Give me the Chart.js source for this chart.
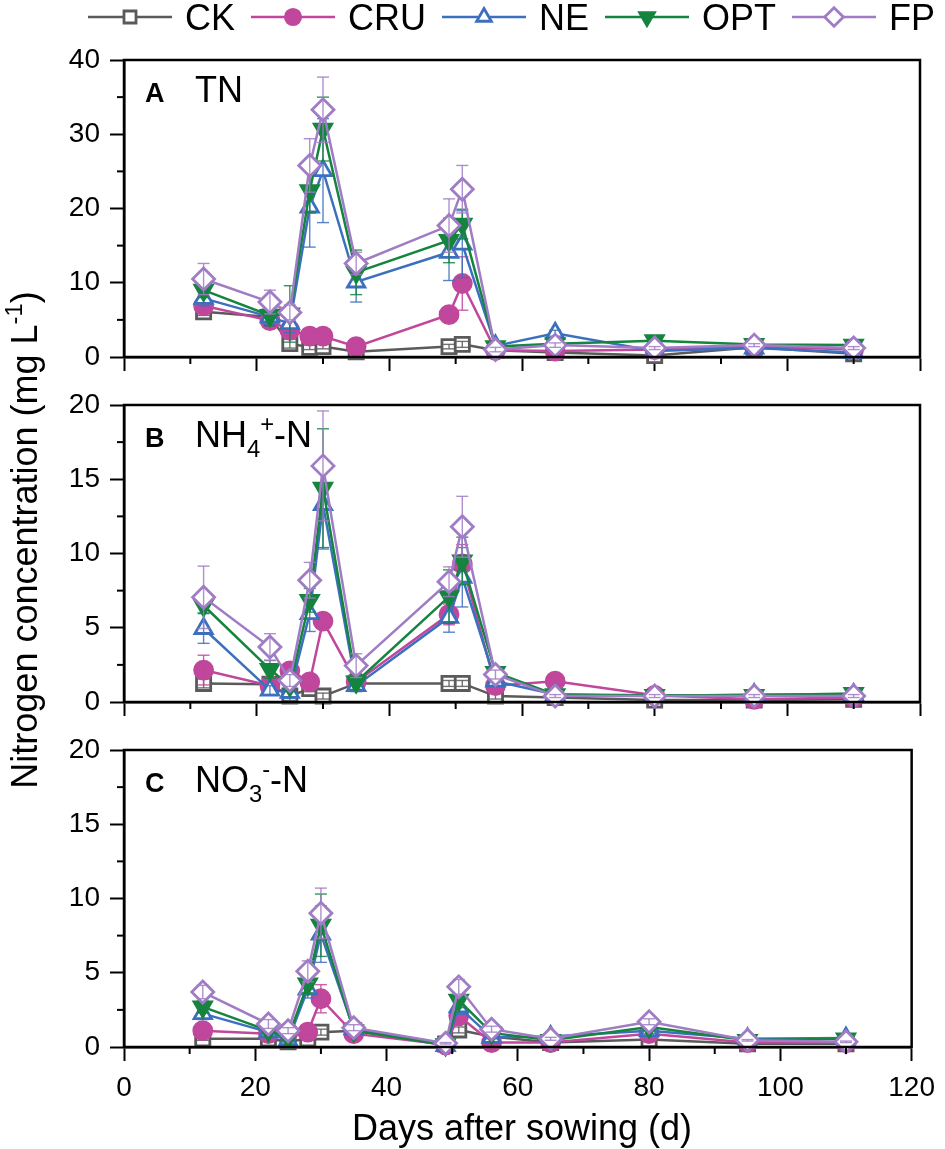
<!DOCTYPE html>
<html>
<head>
<meta charset="utf-8">
<script src="https://cdn.jsdelivr.net/npm/chart.js@4.4.1/dist/chart.umd.min.js"></script>
<style>
  html, body { margin: 0; padding: 0; background: #fff; }
  #wrap { position: relative; width: 945px; height: 1149px; }
  #wrap canvas { position: absolute; left: 0; top: 0; }
</style>
</head>
<body>
<div id="wrap">
  <canvas id="chartA" width="945" height="1149"></canvas>
  <canvas id="chartB" width="945" height="1149"></canvas>
  <canvas id="chartC" width="945" height="1149"></canvas>
</div>
<script>
// sampling days (x) and treatments
const days = [12, 22, 25, 28, 30, 35, 49, 51, 56, 65, 80, 95, 110];
const treatments = ['CK', 'CRU', 'NE', 'OPT', 'FP'];
const xTickValues = [0, 20, 40, 60, 80, 100, 120];
const yTicksA = [0, 10, 20, 30, 40];
const yTicksBC = [0, 5, 10, 15, 20];

// A: TN (mg/L)
const tnCK  = [6.1, 5.4, 1.8, 1.3, 1.4, 0.7, 1.4, 1.7, 0.9, 0.6, 0.2, 1.3, 0.45];
const tnCRU = [6.9, 4.9, 3.6, 2.8, 2.8, 1.4, 5.7, 9.9, 0.9, 0.8, 1.0, 1.4, 1.0];
const tnNE  = [7.9, 5.4, 4.5, 20.2, 25.1, 10.1, 14.1, 15.2, 1.5, 3.2, 0.8, 1.2, 0.6];
const tnOPT = [9.0, 5.6, 5.8, 22.4, 30.7, 11.4, 15.7, 17.9, 1.4, 1.8, 2.2, 1.7, 1.6];
const tnFP  = [10.5, 7.4, 6.0, 25.8, 33.3, 12.6, 17.7, 22.6, 1.0, 1.6, 1.2, 1.6, 1.2];
const tnCKsd  = [0.5, 0.4, 0.6, 0.3, 0.3, 0.2, 0.3, 0.4, 0.2, 0.2, 0.1, 0.2, 0.1];
const tnCRUsd = [0.6, 0.6, 0.8, 0.4, 0.4, 0.3, 0.8, 3.6, 0.2, 0.2, 0.2, 0.2, 0.2];
const tnNEsd  = [1.0, 1.0, 1.2, 5.4, 7.0, 2.7, 3.8, 4.5, 0.3, 0.4, 0.2, 0.2, 0.2];
const tnOPTsd = [1.0, 1.4, 3.8, 3.0, 4.3, 3.0, 3.0, 2.0, 0.3, 0.3, 0.3, 0.2, 0.2];
const tnFPsd  = [2.1, 1.6, 1.0, 3.6, 4.4, 1.5, 3.6, 3.2, 0.3, 0.3, 0.2, 0.2, 0.2];

// B: NH4+-N (mg/L)
const nhCK  = [1.25, 1.2, 0.4, 0.9, 0.4, 1.25, 1.25, 1.25, 0.4, 0.3, 0.13, 0.13, 0.18];
const nhCRU = [2.15, 1.1, 2.1, 1.35, 5.45, 1.35, 5.9, 9.3, 1.1, 1.4, 0.45, 0.18, 0.3];
const nhNE  = [4.95, 0.8, 0.65, 5.95, 13.3, 1.1, 5.7, 8.4, 1.4, 0.5, 0.4, 0.5, 0.5];
const nhOPT = [6.5, 2.2, 1.1, 6.85, 14.4, 1.35, 7.1, 9.5, 2.0, 0.5, 0.45, 0.45, 0.58];
const nhFP  = [7.05, 3.7, 1.45, 8.2, 15.9, 2.45, 8.1, 11.8, 1.85, 0.4, 0.4, 0.4, 0.4];
const nhCKsd  = [0.3, 0.2, 0.3, 0.2, 0.2, 0.2, 0.2, 0.2, 0.2, 0.1, 0.05, 0.05, 0.05];
const nhCRUsd = [1.0, 0.3, 0.4, 0.3, 0.4, 0.3, 0.7, 1.3, 0.2, 0.2, 0.1, 0.05, 0.1];
const nhNEsd  = [1.0, 0.3, 0.4, 1.2, 3.0, 0.4, 1.0, 2.0, 0.3, 0.1, 0.1, 0.1, 0.1];
const nhOPTsd = [0.5, 0.6, 0.4, 0.8, 4.0, 0.5, 1.8, 1.6, 0.3, 0.1, 0.1, 0.1, 0.1];
const nhFPsd  = [2.1, 0.9, 0.4, 1.2, 3.7, 0.8, 1.0, 2.05, 0.3, 0.1, 0.1, 0.1, 0.1];

// C: NO3--N (mg/L)
const noCK  = [0.55, 0.55, 0.35, 0.55, 1.0, 1.1, 0.2, 1.15, 0.7, 0.3, 0.5, 0.22, 0.22];
const noCRU = [1.1, 0.9, 1.0, 1.0, 3.25, 0.9, 0.15, 2.1, 0.3, 0.3, 0.9, 0.3, 0.3];
const noNE  = [2.25, 1.0, 0.45, 3.9, 7.6, 1.2, 0.1, 2.7, 0.65, 0.7, 1.1, 0.55, 0.6];
const noOPT = [2.7, 1.1, 0.65, 4.25, 8.2, 1.1, 0.15, 3.15, 0.95, 0.45, 1.35, 0.45, 0.55];
const noFP  = [3.7, 1.55, 1.1, 5.1, 9.0, 1.3, 0.25, 4.05, 1.2, 0.55, 1.7, 0.45, 0.35];
const noCKsd  = [0.1, 0.1, 0.1, 0.1, 0.2, 0.2, 0.05, 0.2, 0.1, 0.05, 0.1, 0.05, 0.05];
const noCRUsd = [0.3, 0.2, 0.2, 0.2, 0.95, 0.2, 0.05, 0.4, 0.1, 0.05, 0.1, 0.05, 0.05];
const noNEsd  = [0.4, 0.3, 0.2, 0.6, 1.9, 0.2, 0.05, 0.5, 0.1, 0.1, 0.2, 0.05, 0.05];
const noOPTsd = [0.4, 0.3, 0.2, 0.6, 2.1, 0.2, 0.05, 0.5, 0.1, 0.1, 0.2, 0.05, 0.05];
const noFPsd  = [0.45, 0.3, 0.2, 0.7, 1.7, 0.2, 0.05, 0.5, 0.2, 0.1, 0.2, 0.05, 0.05];

const FONT = '"Liberation Sans", Arial, Helvetica, sans-serif';
const colors = ['#5a5a5a', '#c0479c', '#3c70bf', '#14843e', '#a07cc5'];
const fills = ['#ffffff', '#c0479c', '#ffffff', '#14843e', '#ffffff'];
const pStyles = ['rect', 'circle', 'triangle', 'triangle', 'rectRot'];
const pRot = [0, 0, 0, 180, 0];
const pRadius = [10, 9, 10, 10, 11];

const W = 945, H = 1149;
const LEFT = 124, RIGHT = 920;

function line(ctx, x1, y1, x2, y2) {
  ctx.beginPath(); ctx.moveTo(x1, y1); ctx.lineTo(x2, y2); ctx.stroke();
}

function marker(ctx, i, x, y, r) {
  ctx.save();
  ctx.fillStyle = fills[i];
  ctx.strokeStyle = colors[i];
  ctx.lineWidth = 2.8;
  Chart.helpers.drawPoint(ctx, {pointStyle: pStyles[i], rotation: pRot[i], radius: r, borderWidth: 2.8}, x, y);
  ctx.restore();
}

// text made of pieces: [text, 'sub' | 'sup' | '']
function drawPieces(ctx, pieces, x, y, size) {
  pieces.forEach(([t, kind]) => {
    let dy = 0, fs = size;
    if (kind === 'sub') { fs = size * 0.66; dy = 10; }
    if (kind === 'sup') { fs = size * 0.66; dy = -15; }
    ctx.font = fs + 'px ' + FONT;
    ctx.fillText(t, x, y + dy);
    x += ctx.measureText(t).width;
  });
  return x;
}
function piecesWidth(ctx, pieces, size) {
  let w = 0;
  pieces.forEach(([t, kind]) => {
    const fs = kind ? size * 0.66 : size;
    ctx.font = fs + 'px ' + FONT;
    w += ctx.measureText(t).width;
  });
  return w;
}

function drawLegend(ctx) {
  ctx.save();
  ctx.font = '36px ' + FONT;
  ctx.textBaseline = 'alphabetic';
  ctx.textAlign = 'left';
  let x = 88;
  treatments.forEach((t, i) => {
    ctx.strokeStyle = colors[i];
    ctx.lineWidth = 2.5;
    line(ctx, x, 17, x + 84, 17);
    marker(ctx, i, x + 42, 17, pRadius[i] * 0.85);
    ctx.fillStyle = '#000';
    ctx.font = '36px ' + FONT;
    ctx.fillText(t, x + 97, 30);
    x += 97 + ctx.measureText(t).width + 16;
  });
  ctx.restore();
}

function drawTitles(ctx) {
  ctx.save();
  ctx.fillStyle = '#000';
  ctx.textBaseline = 'alphabetic';
  // x title
  ctx.font = '36px ' + FONT;
  ctx.textAlign = 'center';
  ctx.fillText('Days after sowing (d)', (LEFT + RIGHT) / 2, 1140);
  // y title (rotated)
  const pieces = [['Nitrogen concentration (mg L', ''], ['-1', 'sup'], [')', '']];
  ctx.textAlign = 'left';
  const w = piecesWidth(ctx, pieces, 36);
  ctx.translate(37, 540);
  ctx.rotate(-Math.PI / 2);
  drawPieces(ctx, pieces, -w / 2, 0, 36);
  ctx.restore();
}

const decor = {
  id: 'decor',
  afterDatasetDraw(chart, args) {
    // error bars for this series
    const ctx = chart.ctx, ys = chart.scales.y;
    const ds = chart.data.datasets[args.index];
    const i = treatments.indexOf(ds.label);
    ctx.save();
    ctx.strokeStyle = colors[i];
    ctx.globalAlpha = 0.85;
    ctx.lineWidth = 1.4;
    args.meta.data.forEach((pt, j) => {
      const v = ds.data[j].y, e = ds.errors[j];
      const hi = ys.getPixelForValue(v + e);
      const lo = ys.getPixelForValue(Math.max(v - e, 0));
      line(ctx, pt.x, hi, pt.x, lo);
      line(ctx, pt.x - 6, hi, pt.x + 6, hi);
      line(ctx, pt.x - 6, lo, pt.x + 6, lo);
    });
    ctx.restore();
  },
  afterDraw(chart) {
    const ctx = chart.ctx, a = chart.chartArea;
    const cfg = chart.config.options.panel;
    const xs = chart.scales.x, ys = chart.scales.y;
    ctx.save();
    ctx.strokeStyle = '#000';
    ctx.lineWidth = 2.5;
    ctx.strokeRect(a.left, a.top, a.right - a.left, a.bottom - a.top);
    // minor ticks
    ctx.lineWidth = 2;
    for (let k = 0; k < xTickValues.length - 1; k++) {
      const px = xs.getPixelForValue((xTickValues[k] + xTickValues[k + 1]) / 2);
      line(ctx, px, a.bottom, px, a.bottom + 7);
    }
    const yt = cfg.yTicks;
    for (let k = 0; k < yt.length - 1; k++) {
      const py = ys.getPixelForValue((yt[k] + yt[k + 1]) / 2);
      line(ctx, a.left - 7, py, a.left, py);
    }
    // panel label
    ctx.fillStyle = '#000';
    ctx.textAlign = 'left';
    ctx.textBaseline = 'alphabetic';
    const base = a.top + 42;
    ctx.font = 'bold 27px ' + FONT;
    ctx.fillText(cfg.letter, 145, base);
    drawPieces(ctx, cfg.name, 195, base, 36);
    ctx.restore();
    if (cfg.legend) { drawLegend(ctx); drawTitles(ctx); }
  }
};

function makeChart(id, top, bottom, yTicks, series, sds, letter, name, isBottom, legend) {
  const xh = isBottom ? H - bottom : 16;
  const padBottom = isBottom ? 0 : H - bottom - xh;
  const datasets = series.map((vals, i) => ({
    label: treatments[i],
    data: days.map((d, j) => ({x: d, y: vals[j]})),
    errors: sds[i],
    borderColor: colors[i],
    backgroundColor: fills[i],
    pointBackgroundColor: fills[i],
    pointBorderColor: colors[i],
    pointStyle: pStyles[i],
    pointRotation: pRot[i],
    pointRadius: pRadius[i],
    pointBorderWidth: 2.8,
    borderWidth: 2.5,
    tension: 0,
    clip: false,
    order: 4 - i
  }));
  const tickFont = {size: 28, family: FONT};
  return new Chart(document.getElementById(id), {
    type: 'line',
    data: {datasets},
    options: {
      responsive: false,
      animation: false,
      panel: {letter, name, yTicks, legend},
      layout: {padding: {top: top, left: 0, right: W - RIGHT, bottom: padBottom}},
      plugins: {legend: {display: false}, tooltip: {enabled: false}},
      scales: {
        x: {
          type: 'linear', min: 0, max: 120,
          afterBuildTicks: s => { s.ticks = xTickValues.map(v => ({value: v})); },
          afterFit: s => { s.height = xh; },
          ticks: {display: isBottom, font: tickFont, color: '#000', padding: 10, maxRotation: 0},
          grid: {drawOnChartArea: false, tickLength: 14, tickWidth: 2, tickColor: '#000'},
          border: {color: '#000', width: 2.5}
        },
        y: {
          type: 'linear', min: 0, max: yTicks[yTicks.length - 1],
          afterBuildTicks: s => { s.ticks = yTicks.map(v => ({value: v})); },
          afterFit: s => { s.width = LEFT; },
          ticks: {font: tickFont, color: '#000', padding: 10},
          grid: {drawOnChartArea: false, tickLength: 14, tickWidth: 2, tickColor: '#000'},
          border: {color: '#000', width: 2.5}
        }
      }
    },
    plugins: [decor]
  });
}

Chart.defaults.font.family = FONT;

makeChart('chartA', 60, 357, yTicksA,
  [tnCK, tnCRU, tnNE, tnOPT, tnFP], [tnCKsd, tnCRUsd, tnNEsd, tnOPTsd, tnFPsd],
  'A', [['TN', '']], false, true);
makeChart('chartB', 405, 702, yTicksBC,
  [nhCK, nhCRU, nhNE, nhOPT, nhFP], [nhCKsd, nhCRUsd, nhNEsd, nhOPTsd, nhFPsd],
  'B', [['NH', ''], ['4', 'sub'], ['+', 'sup'], ['-N', '']], false, false);
makeChart('chartC', 750, 1047, yTicksBC,
  [noCK, noCRU, noNE, noOPT, noFP], [noCKsd, noCRUsd, noNEsd, noOPTsd, noFPsd],
  'C', [['NO', ''], ['3', 'sub'], ['-', 'sup'], ['-N', '']], true, false);
</script>
</body>
</html>
